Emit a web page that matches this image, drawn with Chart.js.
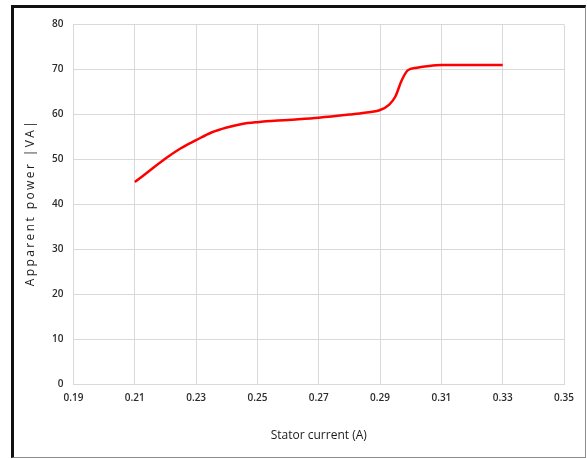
<!DOCTYPE html>
<html>
<head>
<meta charset="utf-8">
<script src="https://cdn.jsdelivr.net/npm/chart.js@4/dist/chart.umd.min.js"></script>
<style>
  html, body { margin: 0; padding: 0; background: #fff; }
  #wrap { position: relative; width: 587px; height: 459px; overflow: hidden; }
  #frame {
    position: absolute; left: 11px; top: 5px; width: 571px; height: 449px;
    border-left: 3px solid #111; border-top: 3px solid #111;
    border-right: 1px solid #8c8c8c; border-bottom: 1px solid #8c8c8c;
    box-sizing: content-box;
  }
  canvas { position: absolute; left: 0; top: 0; }
</style>
</head>
<body>
<div id="wrap">
  <div id="frame"></div>
  <canvas id="c" width="587" height="459"></canvas>
</div>
<script>
// Stator current (A) vs apparent power (VA)
const statorCurrent = [0.21, 0.215, 0.22, 0.225, 0.23, 0.235, 0.24, 0.245, 0.25, 0.26, 0.27, 0.28, 0.285, 0.29, 0.293, 0.295, 0.297, 0.299, 0.302, 0.306, 0.31, 0.32, 0.33];
const apparentPower = [45, 47.6, 50.2, 52.5, 54.3, 56.0, 57.1, 57.9, 58.3, 58.8, 59.3, 60.0, 60.4, 61.0, 62.2, 64.0, 67.5, 69.8, 70.4, 70.8, 71.0, 71.0, 71.0];
const xTicks = [0.19, 0.21, 0.23, 0.25, 0.27, 0.29, 0.31, 0.33, 0.35];
const yTicks = [0, 10, 20, 30, 40, 50, 60, 70, 80];
const xTitle = 'Stator current (A)';
const yTitle = 'Apparent power |VA|';

const points = statorCurrent.map((x, i) => ({ x: x, y: apparentPower[i] }));

// spaced vertical axis title
const yTitlePlugin = {
  id: 'yTitle',
  afterDraw(chart) {
    const ctx = chart.ctx;
    const a = chart.chartArea;
    ctx.save();
    ctx.translate(31, (a.top + a.bottom) / 2 - 2);
    ctx.rotate(-Math.PI / 2);
    ctx.font = '12px "Open Sans", sans-serif';
    if ('letterSpacing' in ctx) ctx.letterSpacing = '2.4px';
    ctx.fillStyle = '#1a1a1a';
    ctx.textAlign = 'center';
    ctx.textBaseline = 'middle';
    ctx.fillText(yTitle, 0, 0);
    ctx.restore();
  }
};

new Chart(document.getElementById('c'), {
  type: 'line',
  data: {
    datasets: [{
      data: points,
      borderColor: '#ff0000',
      borderWidth: 2.5,
      pointRadius: 0,
      tension: 0.4,
      cubicInterpolationMode: 'monotone',
      fill: false
    }]
  },
  options: {
    responsive: false,
    animation: false,
    devicePixelRatio: 1,
    layout: { padding: { left: 14, right: 23, top: 24.5, bottom: 8 } },
    plugins: { legend: { display: false }, tooltip: { enabled: false } },
    scales: {
      x: {
        type: 'linear',
        min: 0.19, max: 0.35,
        afterBuildTicks(s) { s.ticks = xTicks.map(v => ({ value: v })); },
        afterFit(s) { s.height = 66.5; },
        grid: { color: '#d9d9d9', lineWidth: 1, drawTicks: false },
        border: { color: '#d9d9d9', width: 1 },
        ticks: {
          padding: 8,
          color: '#2b2b2b',
          font: { family: '"Open Sans", sans-serif', size: 10, weight: '600' },
          maxRotation: 0,
          callback: v => v.toFixed(2)
        },
        title: {
          display: true,
          text: xTitle,
          color: '#1a1a1a',
          font: { family: '"Open Sans", sans-serif', size: 12 },
          padding: { top: 0, bottom: 8 }
        }
      },
      y: {
        min: 0, max: 80,
        afterBuildTicks(s) { s.ticks = yTicks.map(v => ({ value: v })); },
        afterFit(s) { s.width = 59.5; },
        grid: { color: '#d9d9d9', lineWidth: 1, drawTicks: false },
        border: { color: '#d9d9d9', width: 1 },
        ticks: {
          padding: 10,
          color: '#2b2b2b',
          font: { family: '"Open Sans", sans-serif', size: 10, weight: '600' }
        }
      }
    }
  },
  plugins: [yTitlePlugin]
});
</script>
</body>
</html>
